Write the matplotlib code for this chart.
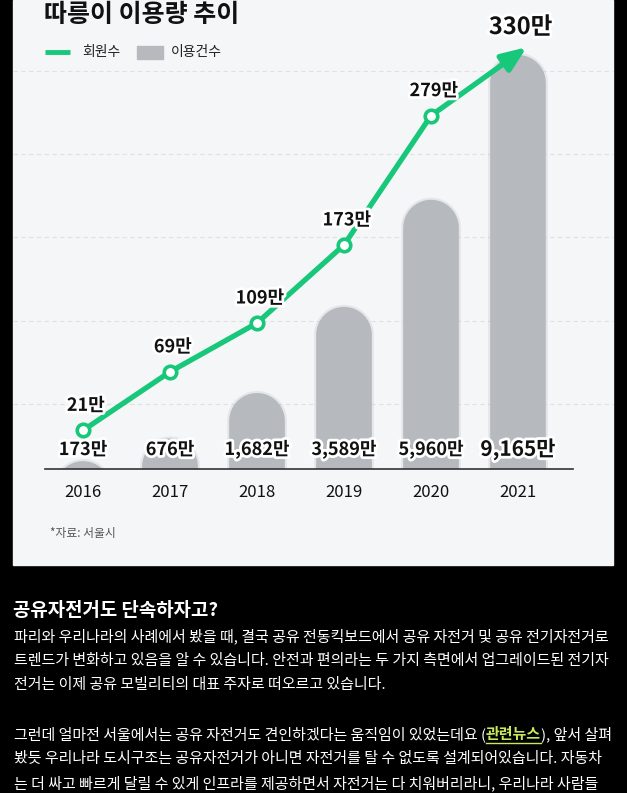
import matplotlib
matplotlib.use('Agg')
import matplotlib.pyplot as plt
import matplotlib.patheffects as pe
from matplotlib.patches import Polygon, Rectangle
import numpy as np

plt.rcParams['font.family'] = ['Noto Sans CJK KR', 'DejaVu Sans']

# 데이터 (단위: 만)
years = ['2016', '2017', '2018', '2019', '2020', '2021']
members = [21, 69, 109, 173, 279, 330]          # 회원수
rides = [173, 676, 1682, 3589, 5960, 9165]      # 이용건수
member_labels = ['21만', '69만', '109만', '173만', '279만', '330만']
ride_labels = ['173만', '676만', '1,682만', '3,589만', '5,960만', '9,165만']

title = '따릉이 이용량 추이'
legend_names = ['회원수', '이용건수']
source = '*자료: 서울시'
heading = '공유자전거도 단속하자고?'
body = [
    '파리와 우리나라의 사례에서 봤을 때, 결국 공유 전동킥보드에서 공유 자전거 및 공유 전기자전거로',
    '트렌드가 변화하고 있음을 알 수 있습니다. 안전과 편의라는 두 가지 측면에서 업그레이드된 전기자',
    '전거는 이제 공유 모빌리티의 대표 주자로 떠오르고 있습니다.',
    '',
    ['그런데 얼마전 서울에서는 공유 자전거도 견인하겠다는 움직임이 있었는데요 (', '관련뉴스', '), 앞서 살펴'],
    '봤듯 우리나라 도시구조는 공유자전거가 아니면 자전거를 탈 수 없도록 설계되어있습니다. 자동차',
    '는 더 싸고 빠르게 달릴 수 있게 인프라를 제공하면서 자전거는 다 치워버리라니, 우리나라 사람들',
]

GREEN = '#17c77a'
BAR = '#b6b9be'
PANEL = '#f5f6f8'
LINK = '#c9e85a'

W, H = 627, 793
fig = plt.figure(figsize=(W / 100, H / 100), dpi=100, facecolor='black')


def box(l, t, r, b):
    return [l / W, 1 - b / H, (r - l) / W, (b - t) / H]


# 배경 (픽셀 좌표)
bg = fig.add_axes([0, 0, 1, 1])
bg.set_xlim(0, W)
bg.set_ylim(H, 0)
bg.set_axis_off()
bg.add_patch(Rectangle((13, 0), 600, 565, color=PANEL, zorder=0))
for gy in [71, 154, 237, 321, 404]:
    bg.plot([13, 613], [gy, gy], ls=(0, (4, 3)), color='#dfe1e5', lw=0.8, zorder=1)

bg.text(44, 15, title, fontsize=18, fontweight='bold', color='#111', va='center')
bg.plot([45, 70], [52, 52], color=GREEN, lw=3.5, solid_capstyle='butt')
bg.text(82, 52, legend_names[0], fontsize=10, color='#222', va='center')
bg.add_patch(Rectangle((137, 46), 26, 13, color=BAR))
bg.text(171, 52, legend_names[1], fontsize=10, color='#222', va='center')
bg.text(50, 533, source, fontsize=8.5, color='#555', va='center')

# 막대 (이용건수)
ax = fig.add_axes(box(45, 30, 573, 469))
ax.patch.set_visible(False)
x = np.arange(len(years))
ytop = 9719
ax.set_xlim(-0.437, 5.632)
ax.set_ylim(0, ytop)
bw = 0.64
ry = 28 * ytop / 439
for xi, v in zip(x, rides):
    t = np.linspace(np.pi, 0, 40)
    yc = v - ry
    bottom = min(0, yc) - ry
    pts = [[xi - bw / 2, bottom]]
    pts += np.column_stack([xi + bw / 2 * np.cos(t), yc + ry * np.sin(t)]).tolist()
    pts += [[xi + bw / 2, bottom]]
    ax.add_patch(Polygon(pts, closed=True, facecolor='none', edgecolor=BAR,
                         lw=3, alpha=0.25, zorder=1))
    ax.add_patch(Polygon(pts, closed=True, facecolor=BAR, edgecolor='none', zorder=2))

for xi, lab in zip(x, ride_labels):
    fs = 15 if lab == ride_labels[-1] else 13
    ax.annotate(lab, xy=(xi, 0), xytext=(0, 14), textcoords='offset points',
                ha='center', va='center', fontsize=fs, fontweight='bold', color='#111',
                path_effects=[pe.withStroke(linewidth=4, foreground='white')], zorder=5)

for s in ['top', 'left', 'right']:
    ax.spines[s].set_visible(False)
ax.spines['bottom'].set_color('#333')
ax.spines['bottom'].set_linewidth(1.2)
ax.set_yticks([])
ax.set_xticks(x)
ax.set_xticklabels(years, fontsize=12, color='#111')
ax.tick_params(axis='x', length=0, pad=11)

# 선 (회원수)
ax2 = ax.twinx()
ax2.set_ylim(-10.66, 349.2)
ax2.set_axis_off()
ext = 1.1
tip = (x[4] + ext * (x[5] - x[4]), members[4] + ext * (members[5] - members[4]))
ax2.annotate('', xy=tip, xytext=(x[4], members[4]),
             arrowprops=dict(arrowstyle='-|>,head_length=1.5,head_width=0.6', color=GREEN,
                             lw=3.8, shrinkA=0, shrinkB=0), zorder=2)
ax2.plot(x[:5], members[:5], color=GREEN, lw=3.8, marker='o', ms=9,
         mfc='white', mec=GREEN, mew=2.6, zorder=3)
for xi, v, lab in zip(x, members, member_labels):
    last = lab == member_labels[-1]
    ax2.annotate(lab, xy=(xi, v), xytext=(2, 19 if last else 18), textcoords='offset points',
                 ha='center', va='center', fontsize=17 if last else 13, fontweight='bold',
                 color='#111', path_effects=[pe.withStroke(linewidth=4, foreground='white')],
                 zorder=5)

# 아래 본문
bg.text(13, 611, heading, fontsize=13.6, fontweight='bold', color='white', va='center')
r = fig.canvas.get_renderer()
line_y = [636, 660.5, 685, 709.5, 734, 758.5, 783]
fs_body = 10.8
for yy, line in zip(line_y, body):
    if isinstance(line, str):
        bg.text(14, yy, line, fontsize=fs_body, color='white', va='center')
        continue
    xc = 14
    for k, seg in enumerate(line):
        col = LINK if k == 1 else 'white'
        t = bg.text(xc, yy, seg, fontsize=fs_body, color=col, va='center',
                    fontweight='bold' if k == 1 else 'normal')
        w = t.get_window_extent(renderer=r).width
        if k == 1:
            bg.plot([xc, xc + w], [yy + 9, yy + 9], color=col, lw=1)
        xc += w

fig.savefig('out.png', dpi=100, facecolor='black')
